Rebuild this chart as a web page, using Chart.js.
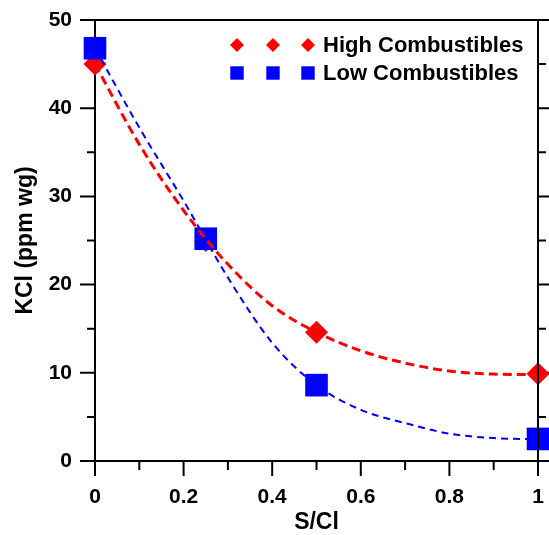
<!DOCTYPE html>
<html lang="en">
<head>
<meta charset="UTF-8">
<title>KCl vs S/Cl</title>
<script src="https://cdn.jsdelivr.net/npm/chart.js@4/dist/chart.umd.min.js"></script>
<style>
  body { margin: 0; background: #fff; }
  #wrap { width: 549px; height: 535px; }
</style>
</head>
<body>
<div id="wrap"><canvas id="kcl"></canvas></div>
<script>
// measured points
const sCl = [0, 0.25, 0.5, 1];
const kclHigh = [45.0, 25.0, 14.6, 9.9];
const kclLow = [46.8, 25.2, 8.6, 2.5];

// fitted curves
const fitX = [0, 0.1, 0.2, 0.3, 0.4, 0.5, 0.6, 0.7, 0.8, 0.9, 1];
const fitHigh = [45.0, 35.9, 28.4, 22.3, 17.6, 14.6, 12.5, 11.1, 10.2, 9.85, 9.8];
const fitLow = [46.8, 37.8, 29.5, 20.8, 13.4, 8.6, 5.8, 4.3, 3.1, 2.6, 2.45];

const xTicks = [0, 0.2, 0.4, 0.6, 0.8, 1];
const yTicks = [0, 10, 20, 30, 40, 50];
const legendLabels = ['High Combustibles', 'Low Combustibles'];

const FONT = 'Liberation Sans, Arial, Helvetica, sans-serif';
const RED = '#ff0000';
const BLUE = '#0000ff';

function pts(xs, ys) {
  return xs.map((x, i) => ({ x: x, y: ys[i] }));
}

const framePlugin = {
  id: 'frame',
  beforeDatasetsDraw(chart) {
    const { ctx, chartArea: a, scales: { x, y } } = chart;
    ctx.save();
    ctx.strokeStyle = '#000';
    ctx.lineWidth = 2;
    ctx.beginPath();
    ctx.rect(a.left, a.top, a.right - a.left, a.bottom - a.top);
    ctx.stroke();
    ctx.beginPath();
    // x ticks (major + minor) outward below
    xTicks.forEach((v, i) => {
      const px = x.getPixelForValue(v);
      ctx.moveTo(px, a.bottom); ctx.lineTo(px, a.bottom + 15);
      if (i < xTicks.length - 1) {
        const m = x.getPixelForValue((v + xTicks[i + 1]) / 2);
        ctx.moveTo(m, a.bottom); ctx.lineTo(m, a.bottom + 9);
      }
    });
    // y ticks left and right, outward
    yTicks.forEach((v, i) => {
      const py = y.getPixelForValue(v);
      ctx.moveTo(a.left - 15, py); ctx.lineTo(a.left, py);
      ctx.moveTo(a.right, py); ctx.lineTo(a.right + 15, py);
      if (i < yTicks.length - 1) {
        const m = y.getPixelForValue((v + yTicks[i + 1]) / 2);
        ctx.moveTo(a.left - 8, m); ctx.lineTo(a.left, m);
        ctx.moveTo(a.right, m); ctx.lineTo(a.right + 8, m);
      }
    });
    ctx.stroke();
    ctx.restore();
  },
  afterDatasetsDraw(chart) {
    const { ctx, chartArea: a } = chart;
    ctx.save();
    ctx.strokeStyle = '#000';
    ctx.lineWidth = 2;
    ctx.beginPath();
    ctx.moveTo(a.right, a.top); ctx.lineTo(a.right, a.bottom);
    ctx.stroke();

    // legend: three markers per entry
    const rows = [
      { text: legendLabels[0], style: 'rectRot', r: 7, color: RED, y: a.top + 25 },
      { text: legendLabels[1], style: 'rect', r: 9.5, color: BLUE, y: a.top + 53 }
    ];
    ctx.font = 'bold 22px ' + FONT;
    ctx.textBaseline = 'middle';
    ctx.textAlign = 'left';
    rows.forEach(row => {
      [142, 178, 213].forEach(dx => {
        ctx.fillStyle = row.color;
        Chart.helpers.drawPoint(ctx, { pointStyle: row.style, radius: row.r, borderWidth: 0 }, a.left + dx, row.y);
      });
      ctx.fillStyle = '#000';
      ctx.fillText(row.text, a.left + 228, row.y + 1);
    });
    ctx.restore();
  }
};

new Chart(document.getElementById('kcl').getContext('2d'), {
  type: 'scatter',
  data: {
    datasets: [
      {
        label: 'High fit', type: 'line', data: pts(fitX, fitHigh),
        borderColor: RED, borderWidth: 3, borderDash: [9, 5], pointRadius: 0,
        cubicInterpolationMode: 'monotone', fill: false, clip: false, order: 0
      },
      {
        label: 'Low fit', type: 'line', data: pts(fitX, fitLow),
        borderColor: BLUE, borderWidth: 2, borderDash: [7, 5], pointRadius: 0,
        cubicInterpolationMode: 'monotone', fill: false, clip: false, order: 0
      },
      {
        label: legendLabels[1], data: pts(sCl, kclLow),
        pointStyle: 'rect', pointRadius: 16, pointHoverRadius: 16,
        backgroundColor: BLUE, borderColor: BLUE, borderWidth: 0, clip: false, order: 1
      },
      {
        label: legendLabels[0], data: pts(sCl, kclHigh),
        pointStyle: 'rectRot', pointRadius: 11.5, pointHoverRadius: 11.5,
        backgroundColor: RED, borderColor: RED, borderWidth: 0, clip: false, order: 2
      }
    ]
  },
  options: {
    responsive: true,
    maintainAspectRatio: false,
    animation: false,
    layout: { autoPadding: false, padding: { top: 20, right: 11, left: 0, bottom: 0 } },
    plugins: {
      legend: { display: false },
      tooltip: { enabled: false }
    },
    scales: {
      x: {
        type: 'linear', min: 0, max: 1,
        afterBuildTicks: s => { s.ticks = xTicks.map(v => ({ value: v })); },
        afterFit: s => { s.height = 74; s.paddingLeft = 0; s.paddingRight = 0; },
        grid: { display: false, drawTicks: false },
        border: { display: false },
        ticks: {
          color: '#000', padding: 24,
          font: { family: FONT, size: 21, weight: 'bold' },
          callback: v => String(v)
        },
        title: {
          display: true, text: 'S/Cl', color: '#000',
          font: { family: FONT, size: 23, weight: 'bold' },
          padding: { top: 0, bottom: -1 }
        }
      },
      y: {
        type: 'linear', min: 0, max: 50,
        afterBuildTicks: s => { s.ticks = yTicks.map(v => ({ value: v })); },
        afterFit: s => { s.width = 95; s.paddingTop = 0; s.paddingBottom = 0; },
        grid: { display: false, drawTicks: false },
        border: { display: false },
        ticks: {
          color: '#000', padding: 23,
          font: { family: FONT, size: 21, weight: 'bold' }
        },
        title: {
          display: true, text: 'KCl (ppm wg)', color: '#000',
          font: { family: FONT, size: 23, weight: 'bold' },
          padding: { top: 12, bottom: 0 }
        }
      }
    }
  },
  plugins: [framePlugin]
});
</script>
</body>
</html>
